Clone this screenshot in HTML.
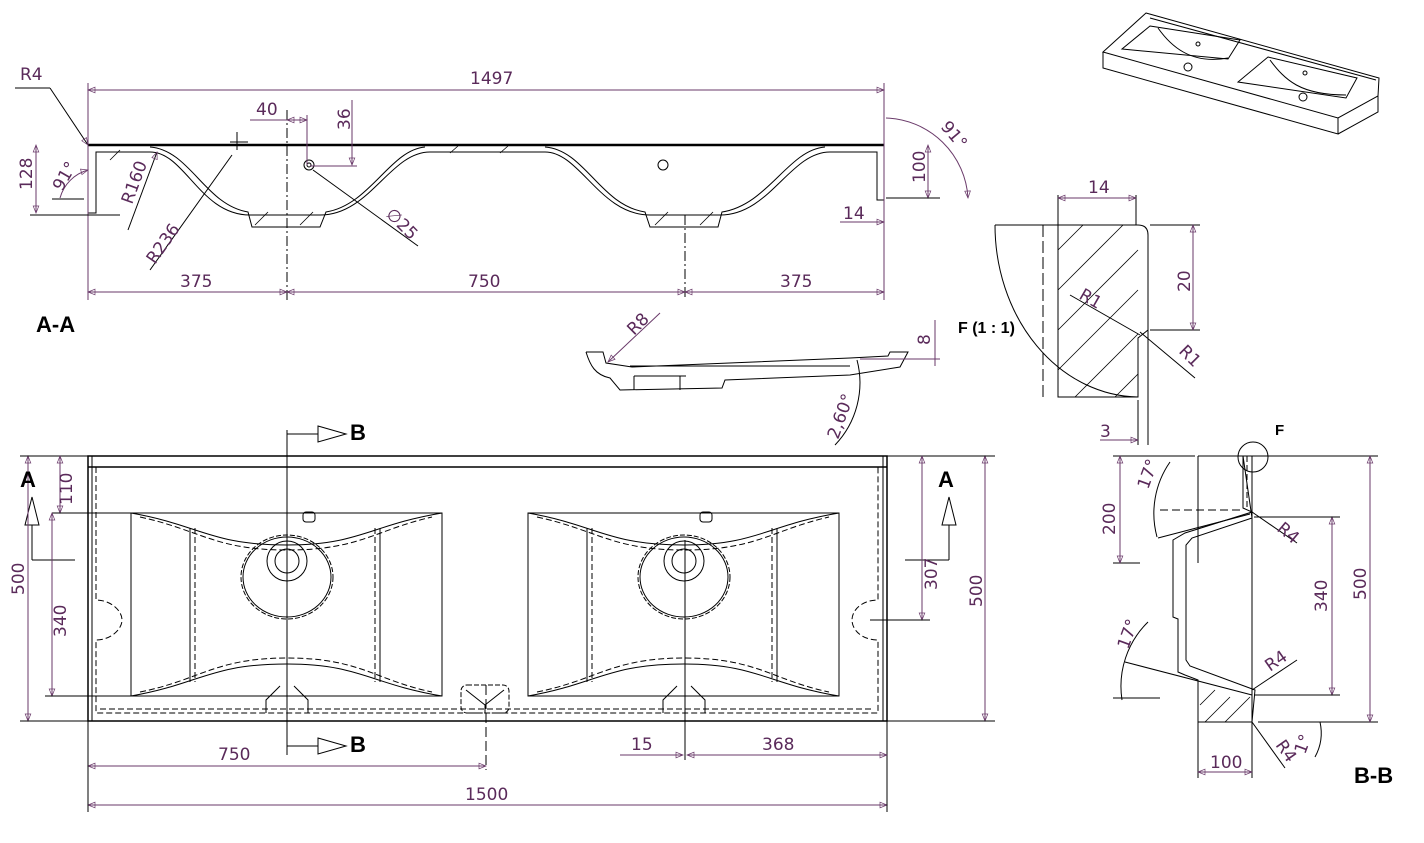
<!DOCTYPE html>
<html><head><meta charset="utf-8"><style>
html,body{margin:0;padding:0;background:#fff;}
svg{display:block;}
text{font-family:"DejaVu Sans","Liberation Sans",sans-serif;}
.d{fill:#5a2a5a;font-size:17px;}
.b{fill:#000;font-size:22px;font-weight:bold;font-family:"Liberation Sans",sans-serif;}
</style></head><body>
<svg width="1424" height="843" viewBox="0 0 1424 843" xmlns="http://www.w3.org/2000/svg">
<defs>
<marker id="a" viewBox="0 0 10 10" refX="10" refY="5" markerWidth="9" markerHeight="7" orient="auto-start-reverse"><path d="M0,1 L10,5 L0,9 Z" fill="none" stroke="#6a3a6a" stroke-width="1"/></marker>
</defs>
<g fill="none" stroke="#000" stroke-width="1">
<line x1="88" y1="145" x2="884" y2="145" stroke-width="2.5"/>
<path d="M88,145 V213 H96 V152 H150 C185,152 200,215 250,215 H320 C370,215 390,152 430,152 H545 C580,152 600,215 650,215 H720 C770,215 790,152 830,152 H877 V200 H884 V145"/>
<path d="M150,147 C190,150 205,205 248,212 L252,227 H320 L326,212 C370,205 390,150 425,147"/>
<path d="M545,147 C585,150 600,205 645,212 L650,227 H718 L722,212 C768,205 788,150 825,147"/>
<g stroke-width="0.8">
<line x1="110" y1="160" x2="120" y2="150"/><line x1="255" y1="225" x2="268" y2="212"/><line x1="300" y1="225" x2="313" y2="212"/>
<line x1="450" y1="153" x2="458" y2="146"/><line x1="500" y1="153" x2="508" y2="146"/><line x1="655" y1="225" x2="668" y2="212"/><line x1="700" y1="225" x2="713" y2="212"/>
</g>
<circle cx="309" cy="165" r="5"/><circle cx="309" cy="165" r="2"/>
<circle cx="663" cy="165" r="5"/>
<line x1="287" y1="110" x2="287" y2="300" stroke-dasharray="10,3,2,3"/>
<line x1="685" y1="215" x2="685" y2="300" stroke-dasharray="10,3,2,3"/>
<line x1="230" y1="142" x2="248" y2="142"/><line x1="237" y1="132" x2="237" y2="150"/>
</g>
<g fill="none" stroke="#6a3a6a" stroke-width="1">
<line x1="88" y1="90" x2="884" y2="90" marker-start="url(#a)" marker-end="url(#a)"/>
<line x1="88" y1="83" x2="88" y2="300"/><line x1="884" y1="83" x2="884" y2="300"/>
<line x1="88" y1="292" x2="287" y2="292" marker-start="url(#a)" marker-end="url(#a)"/>
<line x1="287" y1="292" x2="685" y2="292" marker-start="url(#a)" marker-end="url(#a)"/>
<line x1="685" y1="292" x2="884" y2="292" marker-start="url(#a)" marker-end="url(#a)"/>
<line x1="36" y1="145" x2="36" y2="213" marker-start="url(#a)" marker-end="url(#a)"/>
<line x1="30" y1="215" x2="120" y2="215" stroke="#000"/>
<line x1="928" y1="145" x2="928" y2="198" marker-start="url(#a)" marker-end="url(#a)"/>
<line x1="886" y1="198" x2="940" y2="198" stroke="#000"/>
<line x1="250" y1="120" x2="287" y2="120"/><line x1="287" y1="120" x2="307" y2="120" marker-start="url(#a)" marker-end="url(#a)"/><line x1="307" y1="115" x2="307" y2="165"/>
<line x1="352" y1="100" x2="352" y2="165" marker-end="url(#a)"/><line x1="310" y1="166" x2="357" y2="166"/>
<line x1="15" y1="88" x2="50" y2="88" stroke="#000"/><line x1="50" y1="88" x2="88" y2="145" stroke="#000" marker-end="url(#a)"/>
<line x1="313" y1="170" x2="418" y2="246" stroke="#000"/>
<line x1="128" y1="230" x2="157" y2="152" stroke="#000" marker-end="url(#a)"/>
<line x1="150" y1="270" x2="232" y2="155" stroke="#000"/>
<path d="M60,198 A40,40 0 0 1 88,170" marker-end="url(#a)"/>
<line x1="52" y1="199" x2="84" y2="199" stroke="#000"/>
<path d="M886,118 A85,85 0 0 1 968,198" marker-end="url(#a)"/>
<line x1="840" y1="222" x2="884" y2="222" marker-end="url(#a)"/>
</g>
<g class="d">
<text x="470" y="84">1497</text>
<text x="20" y="80">R4</text>
<text x="256" y="115">40</text>
<text x="180" y="287">375</text>
<text x="468" y="287">750</text>
<text x="780" y="287">375</text>
<text x="843" y="219">14</text>
<text transform="translate(350,130) rotate(-90)">36</text>
<text transform="translate(32,190) rotate(-90)">128</text>
<text transform="translate(925,183) rotate(-90)">100</text>
<text transform="translate(62,192) rotate(-60)">91°</text>
<text transform="translate(940,127) rotate(50)">91°</text>
<text transform="translate(132,205) rotate(-70)">R160</text>
<text transform="translate(155,265) rotate(-55)">R236</text>
<text transform="translate(385,215) rotate(45)">∅25</text>
</g>
<text class="b" x="36" y="332">A-A</text>

<g fill="none" stroke="#000" stroke-width="1">
<path d="M586,352 L603,352 L606,363 L632,367 L850,358 L888,356 L890,352 L908,352 L900,367 L850,375 L725,380 L722,388 L620,390 L610,378 C595,375 590,365 586,352"/>
<line x1="634" y1="376" x2="686" y2="376"/><line x1="634" y1="376" x2="634" y2="390"/><line x1="680" y1="376" x2="680" y2="390"/>
<line x1="630" y1="366" x2="850" y2="366"/>
</g>
<g fill="none" stroke="#6a3a6a"><line x1="660" y1="313" x2="608" y2="362" marker-end="url(#a)"/>
<line x1="935" y1="320" x2="935" y2="366"/><line x1="860" y1="359" x2="940" y2="359"/>
<path d="M857,360 A90,90 0 0 1 835,445" stroke="#000"/></g>
<g class="d"><text transform="translate(634,336) rotate(-45)">R8</text>
<text transform="translate(930,345) rotate(-90)">8</text>
<text transform="translate(838,440) rotate(-70)">2,60°</text></g>
<text x="958" y="333" style="font-size:16px;font-weight:bold;font-family:'Liberation Sans'">F (1 : 1)</text>

<g fill="none" stroke="#000" stroke-width="1">
<path d="M995,225 A145,172 0 0 0 1138,397"/>
<path d="M1058,225 H1138 Q1148,225 1148,235 V330 L1138,338 V397 H1058 Z"/>
<line x1="1043" y1="225" x2="1043" y2="397" stroke-dasharray="12,4"/>
<line x1="995" y1="225" x2="1058" y2="225"/>
<g stroke-width="0.8">
<line x1="1058" y1="250" x2="1083" y2="225"/><line x1="1058" y1="290" x2="1123" y2="225"/><line x1="1058" y1="330" x2="1138" y2="250"/>
<line x1="1058" y1="370" x2="1138" y2="290"/><line x1="1075" y1="397" x2="1138" y2="334"/><line x1="1115" y1="397" x2="1138" y2="374"/>
</g>
<line x1="1058" y1="195" x2="1058" y2="225"/><line x1="1136" y1="195" x2="1136" y2="225"/>
<line x1="1138" y1="400" x2="1138" y2="445"/><line x1="1148" y1="330" x2="1148" y2="445"/>
<line x1="1150" y1="330" x2="1200" y2="330"/><line x1="1150" y1="225" x2="1200" y2="225"/>
<line x1="1070" y1="295" x2="1140" y2="335"/><line x1="1140" y1="332" x2="1195" y2="378"/>
</g>
<g fill="none" stroke="#6a3a6a"><line x1="1058" y1="198" x2="1136" y2="198" marker-start="url(#a)" marker-end="url(#a)"/>
<line x1="1193" y1="225" x2="1193" y2="330" marker-start="url(#a)" marker-end="url(#a)"/>
<line x1="1100" y1="440" x2="1138" y2="440" marker-end="url(#a)"/></g>
<g class="d"><text x="1088" y="193">14</text><text transform="translate(1190,292) rotate(-90)">20</text>
<text transform="translate(1078,298) rotate(30)">R1</text><text transform="translate(1178,352) rotate(45)">R1</text><text x="1100" y="437">3</text></g>

<g fill="none" stroke="#000" stroke-width="1">
<path d="M1146,13 L1379,78 L1378,96 L1338,118 L1103,52 Z"/>
<path d="M1103,52 V68 L1338,134 V118"/><path d="M1338,134 L1378,112 V96"/>
<path d="M1150,18 L1376,80"/>
<path d="M1150,26 L1240,40 L1228,59 L1122,49 Z"/><path d="M1268,57 L1357,78 L1346,98 L1238,82 Z"/>
<path d="M1158,28 C1170,45 1190,65 1228,58"/><path d="M1270,60 C1285,80 1300,95 1346,95"/>
<circle cx="1188" cy="67" r="4"/><circle cx="1303" cy="97" r="4"/><circle cx="1198" cy="44" r="2"/><circle cx="1305" cy="73" r="2"/>
</g>

<g fill="none" stroke="#000" stroke-width="1">
<rect x="88" y="456" width="799" height="265" stroke-width="1.5"/>
<line x1="88" y1="467" x2="887" y2="467" stroke-width="1.5"/>
<line x1="92" y1="456" x2="92" y2="721"/><line x1="883" y1="456" x2="883" y2="721"/>
<path d="M96,467 V600 C110,600 122,610 122,620 C122,630 110,640 96,640 V713 H878 V640 C862,640 852,630 852,620 C852,610 862,600 878,600 V467" stroke-dasharray="6,3"/>
<line x1="100" y1="709" x2="874" y2="709" stroke-dasharray="6,3"/>
<rect x="131" y="513" width="311" height="183"/><rect x="528" y="513" width="311" height="183"/>
<g id="bw">
<path d="M131,513 C200,525 210,545 287,545 C360,545 370,525 442,513"/>
<path d="M140,517 C200,530 215,550 287,550 C360,550 375,530 432,517" stroke-dasharray="6,3"/>
<path d="M131,696 C200,684 210,664 287,664 C360,664 370,684 442,696"/>
<path d="M140,692 C200,680 215,658 287,658 C360,658 375,680 432,692" stroke-dasharray="6,3"/>
<line x1="190" y1="528" x2="190" y2="682"/><line x1="380" y1="528" x2="380" y2="682"/>
<line x1="195" y1="528" x2="195" y2="682" stroke-dasharray="6,3"/><line x1="375" y1="528" x2="375" y2="682" stroke-dasharray="6,3"/>
<ellipse cx="287" cy="577" rx="46" ry="42" stroke-dasharray="5,2"/>
<ellipse cx="287" cy="577" rx="44" ry="40"/>
<circle cx="287" cy="561" r="20"/><circle cx="287" cy="561" r="12"/>
<rect x="303" y="512" width="12" height="10" rx="3"/>
<path d="M266,713 V700 L280,686 M308,713 V700 L294,686"/>
</g>
<use href="#bw" transform="translate(397,0)"/>
<rect x="461" y="685" width="48" height="28" rx="6" stroke-dasharray="5,2"/>
<path d="M466,690 L485,705 L504,690 M485,705 V713"/>
<line x1="287" y1="430" x2="287" y2="755"/>
<line x1="685" y1="540" x2="685" y2="760"/>
<line x1="486" y1="685" x2="486" y2="770" stroke-dasharray="10,4"/>
<line x1="287" y1="434" x2="318" y2="434"/><path d="M318,426 L346,434 L318,442 Z"/>
<line x1="287" y1="746" x2="318" y2="746"/><path d="M318,738 L346,746 L318,754 Z"/>
<path d="M25,525 L32,497 L39,525 Z"/><line x1="32" y1="525" x2="32" y2="560"/><line x1="32" y1="560" x2="75" y2="560"/>
<path d="M942,525 L949,497 L956,525 Z"/><line x1="949" y1="525" x2="949" y2="560"/><line x1="905" y1="560" x2="949" y2="560"/>
</g>
<g fill="none" stroke="#6a3a6a" stroke-width="1">
<line x1="28" y1="456" x2="28" y2="721" marker-start="url(#a)" marker-end="url(#a)"/>
<line x1="20" y1="456" x2="88" y2="456" stroke="#000"/><line x1="20" y1="721" x2="88" y2="721" stroke="#000"/>
<line x1="60" y1="456" x2="60" y2="513" marker-start="url(#a)" marker-end="url(#a)"/>
<line x1="52" y1="513" x2="131" y2="513" stroke="#000"/>
<line x1="52" y1="513" x2="52" y2="696" marker-start="url(#a)" marker-end="url(#a)"/>
<line x1="45" y1="696" x2="131" y2="696" stroke="#000"/>
<line x1="985" y1="456" x2="985" y2="721" marker-start="url(#a)" marker-end="url(#a)"/>
<line x1="887" y1="456" x2="995" y2="456" stroke="#000"/><line x1="887" y1="721" x2="995" y2="721" stroke="#000"/>
<line x1="922" y1="456" x2="922" y2="620" marker-start="url(#a)" marker-end="url(#a)"/>
<line x1="870" y1="620" x2="930" y2="620" stroke="#000"/>
<line x1="88" y1="766" x2="486" y2="766" marker-start="url(#a)" marker-end="url(#a)"/>
<line x1="88" y1="805" x2="887" y2="805" marker-start="url(#a)" marker-end="url(#a)"/>
<line x1="88" y1="721" x2="88" y2="812" stroke="#000"/><line x1="887" y1="721" x2="887" y2="812" stroke="#000"/>
<line x1="687" y1="755" x2="887" y2="755" marker-start="url(#a)" marker-end="url(#a)"/>
<line x1="620" y1="755" x2="683" y2="755" marker-end="url(#a)"/>
</g>
<g class="d">
<text transform="translate(24,595) rotate(-90)">500</text>
<text transform="translate(72,505) rotate(-90)">110</text>
<text transform="translate(66,637) rotate(-90)">340</text>
<text transform="translate(982,607) rotate(-90)">500</text>
<text transform="translate(937,590) rotate(-90)">307</text>
<text x="218" y="760">750</text>
<text x="465" y="800">1500</text>
<text x="631" y="750">15</text>
<text x="762" y="750">368</text>
</g>
<text class="b" x="350" y="440">B</text><text class="b" x="350" y="752">B</text>
<text class="b" x="20" y="487">A</text><text class="b" x="938" y="487">A</text>

<g fill="none" stroke="#000" stroke-width="1">
<line x1="1198" y1="456" x2="1378" y2="456"/><line x1="1113" y1="456" x2="1195" y2="456"/>
<line x1="1198" y1="456" x2="1198" y2="563"/>
<path d="M1243,456 V508 L1252,512 L1185,533 L1173,540 V617 L1178,619 V672 L1185,675 L1198,680 V722 H1252 L1255,690 L1190,666 L1186,660 V545 L1192,538 L1252,518 Z"/>
<line x1="1252" y1="456" x2="1252" y2="722"/>
<line x1="1247" y1="456" x2="1247" y2="510" stroke-dasharray="6,3"/>
<circle cx="1253" cy="457" r="15"/>
<g stroke-width="0.8"><line x1="1205" y1="722" x2="1230" y2="697"/><line x1="1225" y1="722" x2="1250" y2="697"/><line x1="1200" y1="705" x2="1215" y2="690"/></g>
<line x1="1113" y1="563" x2="1140" y2="563"/><line x1="1113" y1="698" x2="1160" y2="698"/>
<line x1="1258" y1="722" x2="1378" y2="722"/>
<line x1="1158" y1="538" x2="1250" y2="514"/><line x1="1125" y1="662" x2="1252" y2="695"/>
<line x1="1252" y1="722" x2="1285" y2="768"/><line x1="1252" y1="512" x2="1297" y2="543"/><line x1="1252" y1="690" x2="1297" y2="660"/>
<path d="M1170,462 A90,90 0 0 0 1157,537"/><path d="M1148,622 A90,90 0 0 0 1122,700"/><path d="M1320,722 A50,50 0 0 1 1315,757"/>
<line x1="1160" y1="510" x2="1240" y2="510" stroke-dasharray="8,4"/>
<line x1="1198" y1="722" x2="1198" y2="778"/><line x1="1252" y1="722" x2="1252" y2="778"/>
</g>
<g fill="none" stroke="#6a3a6a" stroke-width="1">
<line x1="1120" y1="456" x2="1120" y2="563" marker-start="url(#a)" marker-end="url(#a)"/>
<line x1="1332" y1="517" x2="1332" y2="695" marker-start="url(#a)" marker-end="url(#a)"/>
<line x1="1254" y1="517" x2="1340" y2="517" stroke="#000"/><line x1="1254" y1="695" x2="1340" y2="695" stroke="#000"/>
<line x1="1370" y1="456" x2="1370" y2="722" marker-start="url(#a)" marker-end="url(#a)"/>
<line x1="1198" y1="772" x2="1252" y2="772" marker-start="url(#a)" marker-end="url(#a)"/>
</g>
<g class="d">
<text transform="translate(1115,535) rotate(-90)">200</text>
<text transform="translate(1327,612) rotate(-90)">340</text>
<text transform="translate(1366,600) rotate(-90)">500</text>
<text x="1210" y="768">100</text>
<text transform="translate(1148,490) rotate(-70)">17°</text>
<text transform="translate(1128,650) rotate(-70)">17°</text>
<text transform="translate(1276,530) rotate(40)">R4</text>
<text transform="translate(1270,672) rotate(-35)">R4</text>
<text transform="translate(1275,745) rotate(55)">R4</text>
<text transform="translate(1305,755) rotate(-70)">1°</text>
</g>
<text x="1275" y="435" style="font-size:15px;font-weight:bold;font-family:'Liberation Sans'">F</text>
<text class="b" x="1354" y="783">B-B</text>
</svg>
</body></html>
